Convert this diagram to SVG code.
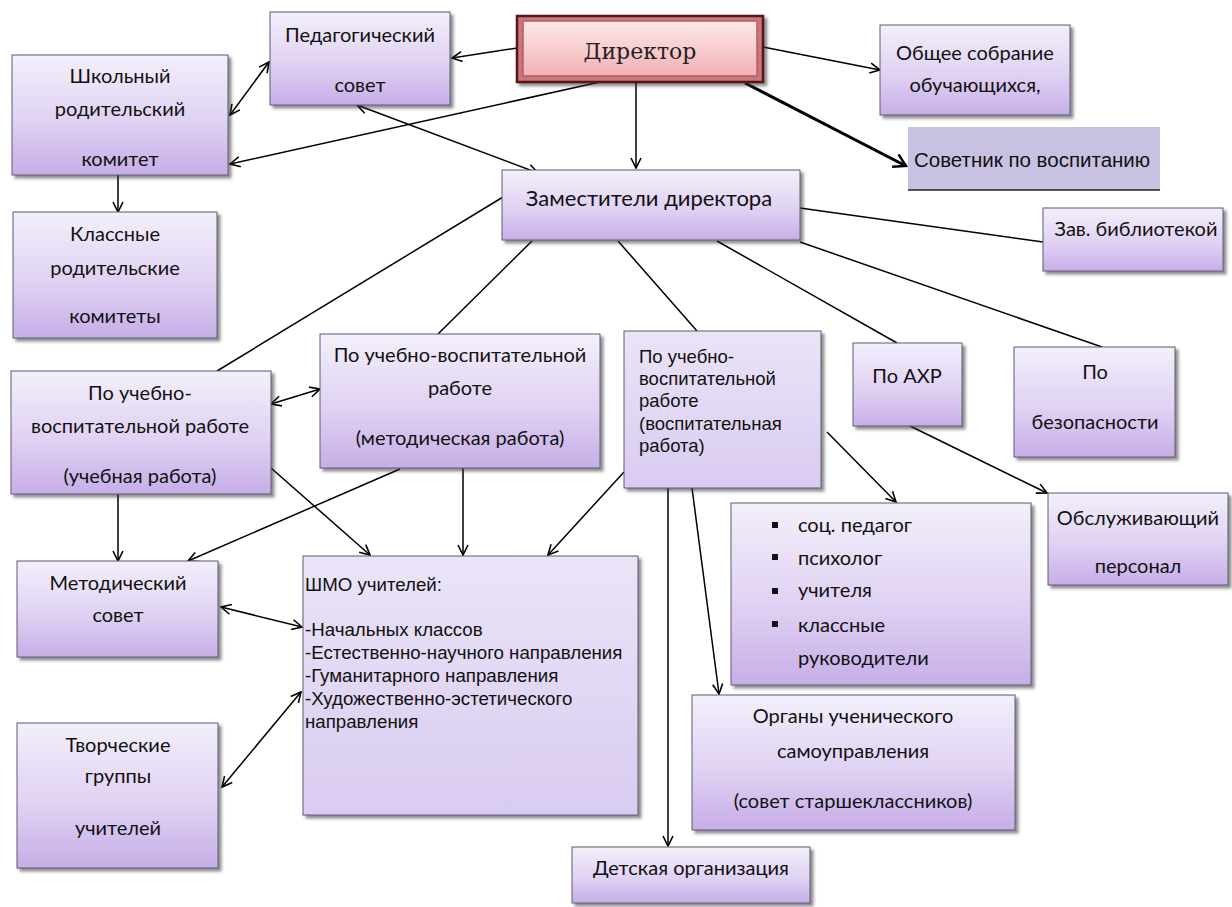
<svg xmlns="http://www.w3.org/2000/svg" width="1232" height="907" viewBox="0 0 1232 907">
<defs>
<linearGradient id="g" x1="0" y1="0" x2="0" y2="1">
<stop offset="0" stop-color="#f3effa"/>
<stop offset="0.55" stop-color="#e0d2f3"/>
<stop offset="1" stop-color="#c6aee7"/>
</linearGradient>
<linearGradient id="gl" x1="0" y1="0" x2="0" y2="1">
<stop offset="0" stop-color="#ebe4f7"/>
<stop offset="1" stop-color="#d9cbf1"/>
</linearGradient>
<linearGradient id="gp" x1="0" y1="0" x2="0" y2="1">
<stop offset="0" stop-color="#fde9ea"/>
<stop offset="1" stop-color="#f3b0b5"/>
</linearGradient>
<filter id="sh" x="-10%" y="-10%" width="125%" height="130%">
<feDropShadow dx="3" dy="3" stdDeviation="1.8" flood-color="#333" flood-opacity="0.55"/>
</filter>
<marker id="ah" viewBox="0 0 12 12" refX="11" refY="6" markerWidth="12" markerHeight="12" markerUnits="userSpaceOnUse" orient="auto-start-reverse">
<path d="M1,1 L11,6 L1,11" fill="none" stroke="#000" stroke-width="1.6"/>
</marker>
<marker id="ahb" viewBox="0 0 16 16" refX="14" refY="8" markerWidth="16" markerHeight="16" markerUnits="userSpaceOnUse" orient="auto">
<path d="M2,1 L14,8 L2,15" fill="none" stroke="#000" stroke-width="2.4"/>
</marker>
</defs>
<style>
.box{fill:url(#g);stroke:#5f5a70;stroke-width:1;filter:url(#sh)}
.boxl{fill:url(#gl);stroke:#5f5a70;stroke-width:1;filter:url(#sh)}
.t{font-family:Lato,"Open Sans","Liberation Sans",sans-serif;font-size:20px;text-anchor:middle;fill:#111}
.tl{font-family:Lato,"Open Sans","Liberation Sans",sans-serif;font-size:20px;text-anchor:start;fill:#111}
.tz{font-family:Lato,"Open Sans","Liberation Sans",sans-serif;font-size:22px;text-anchor:middle;fill:#111}
.a{font-family:"Liberation Sans",Arial,sans-serif;font-size:18.5px;fill:#111}
.as{font-family:"Liberation Sans",Arial,sans-serif;font-size:18.7px;fill:#111}
.av{font-family:"Liberation Sans",Arial,sans-serif;font-size:20.5px;fill:#111}
.ln{stroke:#000;stroke-width:1.5;fill:none}
.ar{marker-end:url(#ah)}
.ar2{marker-start:url(#ah);marker-end:url(#ah)}
</style>
<rect width="1232" height="907" fill="#fff"/>

<g id="connectors">
<path class="ln ar" d="M517,48 L452,58"/>
<path class="ln ar" d="M763,47 L880,70"/>
<path d="M745,83 L906,166" stroke="#000" stroke-width="3" fill="none" marker-end="url(#ahb)"/>
<path class="ln ar" d="M636,82 L636,168"/>
<path class="ln ar" d="M600,82 L230,164" stroke-width="2"/>
<path class="ln ar2" d="M269,62 L230,115"/>
<path class="ln ar2" d="M357,105 L538,173"/>
<path class="ln ar" d="M118,175 L118,212"/>
<path class="ln" d="M800,208 L1043,242" stroke-width="1.2"/>
<path class="ln" d="M503,197 L217,371" stroke-width="1.2"/>
<path class="ln" d="M532,241 L438,334" stroke-width="1.2"/>
<path class="ln" d="M618,241 L697,331" stroke-width="1.2"/>
<path class="ln" d="M717,241 L897,343" stroke-width="1.2"/>
<path class="ln" d="M800,242 L1102,347" stroke-width="1.2"/>
<path class="ln ar2" d="M271,404 L320,389"/>
<path class="ln ar" d="M118,494 L118,561"/>
<path class="ln ar" d="M271,468 L370,555"/>
<path class="ln ar" d="M400,469 L188,561"/>
<path class="ln ar" d="M463,468 L463,555"/>
<path class="ln ar" d="M624,472 L548,555"/>
<path class="ln ar" d="M827,432 L896,502"/>
<path class="ln ar" d="M908,425 L1047,493"/>
<path class="ln ar" d="M692,488 L719,694"/>
<path class="ln ar" d="M668,488 L668,846"/>
<path class="ln ar2" d="M221,607 L302,627"/>
<path class="ln ar2" d="M222,787 L301,692"/>
</g>

<g id="director">
<rect x="517" y="16" width="246" height="66" fill="#c9767b" stroke="#5a1414" stroke-width="2.5" filter="url(#sh)"/>
<rect x="523" y="21" width="234" height="55" fill="url(#gp)" stroke="#b35d62" stroke-width="1.5"/>
<text x="640" y="59" text-anchor="middle" font-family="'DejaVu Serif','Liberation Serif',serif" font-size="22" fill="#222">Директор</text>
</g>

<g id="ped-sovet">
<rect class="box" x="270" y="12" width="180" height="93"/>
<text class="t" x="360" y="42">Педагогический</text>
<text class="t" x="360" y="92">совет</text>
</g>

<g id="obshchee">
<rect class="box" x="880" y="25" width="190" height="90"/>
<text class="t" x="975" y="60">Общее собрание</text>
<text class="t" x="975" y="92">обучающихся,</text>
</g>

<g id="sovetnik">
<rect x="908" y="127" width="252" height="63" fill="#c8c1e2"/>
<line x1="908" y1="190" x2="1160" y2="190" stroke="#222" stroke-width="1.5"/>
<text class="av" x="914" y="167">Советник по воспитанию</text>
</g>

<g id="shkolny">
<rect class="box" x="12" y="55" width="216" height="120"/>
<text class="t" x="120" y="83">Школьный</text>
<text class="t" x="120" y="116">родительский</text>
<text class="t" x="120" y="166">комитет</text>
</g>

<g id="zamestiteli">
<rect class="box" x="502" y="170" width="298" height="70"/>
<text class="tz" x="649" y="206">Заместители директора</text>
</g>

<g id="zav-bibl">
<rect class="box" x="1043" y="208" width="180" height="63"/>
<text class="t" x="1136" y="236">Зав. библиотекой</text>
</g>

<g id="klassnye">
<rect class="box" x="13" y="212" width="204" height="126"/>
<text class="t" x="115" y="241">Классные</text>
<text class="t" x="115" y="275">родительские</text>
<text class="t" x="115" y="323">комитеты</text>
</g>

<g id="uvr-uchebnaya">
<rect class="box" x="11" y="371" width="260" height="123"/>
<text class="t" x="140" y="400">По учебно-</text>
<text class="t" x="140" y="433">воспитательной работе</text>
<text class="t" x="140" y="483">(учебная работа)</text>
</g>

<g id="uvr-metod">
<rect class="box" x="320" y="334" width="280" height="134"/>
<text class="t" x="460" y="362">По учебно-воспитательной</text>
<text class="t" x="460" y="395">работе</text>
<text class="t" x="460" y="445">(методическая работа)</text>
</g>

<g id="uvr-vospit">
<rect class="boxl" x="624" y="331" width="197" height="157"/>
<text class="a" x="639" y="363">По учебно-</text>
<text class="a" x="639" y="385">воспитательной</text>
<text class="a" x="639" y="407">работе</text>
<text class="a" x="639" y="430">(воспитательная</text>
<text class="a" x="639" y="452">работа)</text>
</g>

<g id="ahr">
<rect class="box" x="853" y="343" width="109" height="83"/>
<text class="t" x="907" y="383">По АХР</text>
</g>

<g id="bezopasnost">
<rect class="box" x="1014" y="347" width="161" height="110"/>
<text class="t" x="1095" y="379">По</text>
<text class="t" x="1095" y="429">безопасности</text>
</g>

<g id="obsluzh">
<rect class="box" x="1048" y="493" width="180" height="92"/>
<text class="t" x="1138" y="525">Обслуживающий</text>
<text class="t" x="1138" y="573">персонал</text>
</g>

<g id="soc-ped">
<rect class="box" x="731" y="503" width="300" height="182"/>
<g fill="#111">
<rect x="772" y="522" width="6" height="6"/>
<rect x="772" y="554" width="6" height="6"/>
<rect x="772" y="588" width="6" height="6"/>
<rect x="772" y="621" width="6" height="6"/>
</g>
<text class="tl" x="798" y="532">соц. педагог</text>
<text class="tl" x="798" y="565">психолог</text>
<text class="tl" x="798" y="597">учителя</text>
<text class="tl" x="798" y="632">классные</text>
<text class="tl" x="798" y="665">руководители</text>
</g>

<g id="organy">
<rect class="box" x="692" y="695" width="323" height="135"/>
<text class="t" x="853" y="723">Органы ученического</text>
<text class="t" x="853" y="758">самоуправления</text>
<text class="t" x="853" y="808">(совет старшеклассников)</text>
</g>

<g id="detskaya">
<rect class="box" x="572" y="847" width="238" height="56"/>
<text class="t" x="691" y="875">Детская организация</text>
</g>

<g id="metod-sovet">
<rect class="box" x="17" y="561" width="201" height="96"/>
<text class="t" x="118" y="590">Методический</text>
<text class="t" x="118" y="622">совет</text>
</g>

<g id="tvorcheskie">
<rect class="box" x="17" y="723" width="201" height="145"/>
<text class="t" x="118" y="752">Творческие</text>
<text class="t" x="118" y="783">группы</text>
<text class="t" x="118" y="835">учителей</text>
</g>

<g id="shmo">
<rect class="boxl" x="303" y="556" width="335" height="259"/>
<text class="as" x="305" y="591">ШМО учителей:</text>
<text class="as" x="305" y="636">-Начальных классов</text>
<text class="as" x="305" y="659">-Естественно-научного направления</text>
<text class="as" x="305" y="682">-Гуманитарного направления</text>
<text class="as" x="305" y="705">-Художественно-эстетического</text>
<text class="as" x="305" y="728">направления</text>
</g>
</svg>
